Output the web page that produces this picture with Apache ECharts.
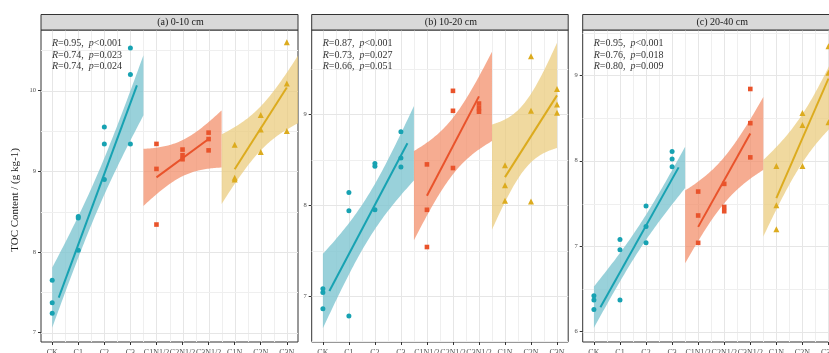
<!DOCTYPE html>
<html>
<head>
<meta charset="utf-8">
<script src="https://cdn.jsdelivr.net/npm/echarts@6/dist/echarts.min.js"></script>
<style>
  html, body { margin: 0; padding: 0; background: #ffffff; }
  #chart { width: 829px; height: 353px; }
</style>
</head>
<body>
<div id="chart"></div>
<script>
// Treatments along the x axis
const categories = ['CK', 'C1', 'C2', 'C3', 'C1N1/2', 'C2N1/2', 'C3N1/2', 'C1N', 'C2N', 'C3N'];
const panelTitles = ['(a) 0-10 cm', '(b) 10-20 cm', '(c) 20-40 cm'];

// TOC content (g/kg), three replicates per treatment
// 0-10 cm
const toc010_C      = [[7.65, 7.37, 7.24], [8.44, 8.42, 8.02], [9.55, 9.34, 8.90], [10.53, 10.20, 9.34]];
const toc010_CNhalf = [[9.34, 9.03, 8.34], [9.27, 9.20, 9.15], [9.48, 9.40, 9.26]];
const toc010_CN     = [[9.33, 8.92, 8.90], [9.70, 9.52, 9.24], [10.60, 10.09, 9.50]];
// 10-20 cm
const toc1020_C      = [[7.08, 7.04, 6.86], [8.14, 7.94, 6.78], [8.46, 8.43, 7.95], [8.81, 8.52, 8.42]];
const toc1020_CNhalf = [[8.45, 7.95, 7.54], [9.26, 9.04, 8.41], [9.12, 9.07, 9.03]];
const toc1020_CN     = [[8.44, 8.22, 8.05], [9.64, 9.04, 8.04], [9.28, 9.11, 9.02]];
// 20-40 cm
const toc2040_C      = [[6.42, 6.37, 6.26], [7.08, 6.96, 6.37], [7.47, 7.23, 7.04], [8.11, 8.02, 7.93]];
const toc2040_CNhalf = [[7.64, 7.36, 7.04], [7.73, 7.46, 7.41], [8.84, 8.44, 8.04]];
const toc2040_CN     = [[7.94, 7.48, 7.20], [8.56, 8.42, 7.94], [9.34, 9.03, 8.45]];

// Correlation statistics [R, p] for each treatment family
const stats010  = [['0.95', '<0.001'], ['0.74', '=0.023'], ['0.74', '=0.024']];
const stats1020 = [['0.87', '<0.001'], ['0.73', '=0.027'], ['0.66', '=0.051']];
const stats2040 = [['0.95', '<0.001'], ['0.76', '=0.018'], ['0.80', '=0.009']];

// Y tick labels per depth
const yTicks010  = [7, 8, 9, 10];
const yTicks1020 = [7, 8, 9];
const yTicks2040 = [6, 7, 8, 9];

const FONT = '"Liberation Serif", "Times New Roman", serif';
const X_MIN = 0.57, X_MAX = 10.43;
const PANEL_TOP = 30, PANEL_H = 312;

const panels = [
  { title: panelTitles[0], groups: [toc010_C, toc010_CNhalf, toc010_CN], stats: stats010,
    yTicks: yTicks010, yMin: 6.883, yMax: 10.753, left: 41, width: 257, lastBandEnd: 10.5 },
  { title: panelTitles[1], groups: [toc1020_C, toc1020_CNhalf, toc1020_CN], stats: stats1020,
    yTicks: yTicks1020, yMin: 6.494, yMax: 9.93, left: 311.7, width: 256.5, lastBandEnd: 10.0 },
  { title: panelTitles[2], groups: [toc2040_C, toc2040_CNhalf, toc2040_CN], stats: stats2040,
    yTicks: yTicks2040, yMin: 5.88, yMax: 9.53, left: 582.7, width: 257, lastBandEnd: 10.5 }
];

// Appearance of the three treatment families
const families = [
  { color: '#17a2b2', band: 'rgba(128,197,209,0.8)', symbol: 'circle',   size: 5,   firstCat: 1,
    bandSpan: [1, 4.5],  lineSpan: [1.25, 4.25] },
  { color: '#e9532b', band: 'rgba(243,140,102,0.72)', symbol: 'rect',     size: 4.6, firstCat: 5,
    bandSpan: [4.5, 7.5], lineSpan: [5, 7] },
  { color: '#dcab1e', band: 'rgba(234,203,122,0.72)', symbol: 'triangle', size: 6,   firstCat: 8,
    bandSpan: [7.5, 10.5], lineSpan: [8, 10] }
];

// Student t quantiles (0.975) by degrees of freedom
const T975 = { 7: 2.3646, 10: 2.2281 };

// Ordinary least squares fit with a 95% confidence band
function linearFit(xs, ys) {
  const n = xs.length;
  const mx = xs.reduce((a, b) => a + b, 0) / n;
  const my = ys.reduce((a, b) => a + b, 0) / n;
  let sxx = 0, sxy = 0;
  for (let i = 0; i < n; i++) { sxx += (xs[i] - mx) ** 2; sxy += (xs[i] - mx) * (ys[i] - my); }
  const b = sxy / sxx, a = my - b * mx;
  let sse = 0;
  for (let i = 0; i < n; i++) sse += (ys[i] - (a + b * xs[i])) ** 2;
  const s = Math.sqrt(sse / (n - 2));
  const t = T975[n - 2];
  return {
    predict: x => a + b * x,
    half: x => t * s * Math.sqrt(1 / n + (x - mx) ** 2 / sxx),
    xMin: Math.min(...xs), xMax: Math.max(...xs)
  };
}

const grids = [], xAxes = [], yAxes = [], series = [], graphics = [];

panels.forEach((pn, pi) => {
  grids.push({ left: pn.left, top: PANEL_TOP, width: pn.width, height: PANEL_H,
    outerBoundsMode: 'none', containLabel: false,
    show: true, borderColor: '#333333', borderWidth: 1, backgroundColor: 'transparent' });

  const xTickVals = categories.map((c, i) => i + 1);
  xAxes.push({
    type: 'value', gridIndex: pi, min: X_MIN, max: X_MAX,
    axisLine: { show: false }, splitLine: { show: false },
    axisTick: { show: true, length: 3, lineStyle: { color: '#333333', width: 1 }, customValues: xTickVals },
    axisLabel: { show: true, customValues: xTickVals, formatter: v => categories[Math.round(v) - 1],
      fontFamily: FONT, fontSize: 8, color: '#4d4d4d', margin: 6.5 }
  });
  yAxes.push({
    type: 'value', gridIndex: pi, min: pn.yMin, max: pn.yMax,
    axisLine: { show: false }, splitLine: { show: false },
    axisTick: { show: true, length: 3, lineStyle: { color: '#333333', width: 1 }, customValues: pn.yTicks },
    axisLabel: { show: true, customValues: pn.yTicks, formatter: v => String(Math.round(v)),
      fontFamily: FONT, fontSize: 6.5, color: '#4d4d4d', margin: 5 }
  });

  // Panel grid lines (major at ticks, minor half-way)
  const gl = [];
  for (let v = 1; v <= 10; v += 0.5) gl.push([v, 0, v % 1 === 0 ? 1 : 0]);
  for (let v = Math.ceil(pn.yMin * 2) / 2; v <= pn.yMax; v += 0.5) gl.push([v, 1, v % 1 === 0 ? 1 : 0]);
  series.push({
    type: 'custom', xAxisIndex: pi, yAxisIndex: pi, z: 1, silent: true,
    data: gl.map(g => [g[1] === 0 ? g[0] : 5, g[1] === 1 ? g[0] : (pn.yMin + pn.yMax) / 2, g[1], g[2]]),
    encode: { x: 0, y: 1 },
    renderItem: (params, api) => {
      const dir = api.value(2), major = api.value(3);
      let p1, p2;
      if (dir === 0) {
        const x = api.value(0);
        p1 = api.coord([x, pn.yMin]); p2 = api.coord([x, pn.yMax]);
        p1[0] = p2[0] = Math.round(p1[0]) + 0.5;
      } else {
        const y = api.value(1);
        p1 = api.coord([X_MIN, y]); p2 = api.coord([X_MAX, y]);
        p1[1] = p2[1] = Math.round(p1[1]) + 0.5;
      }
      return { type: 'line', shape: { x1: p1[0], y1: p1[1], x2: p2[0], y2: p2[1] },
        style: { stroke: major ? '#e6e6e6' : '#efefef', lineWidth: 1 } };
    }
  });

  pn.groups.forEach((reps, gi) => {
    const fam = families[gi];
    const xs = [], ys = [], pts = [];
    reps.forEach((vals, ci) => vals.forEach(v => {
      xs.push(fam.firstCat + ci); ys.push(v); pts.push([fam.firstCat + ci, v]);
    }));
    const fit = linearFit(xs, ys);
    const bandEnd = gi === 2 ? pn.lastBandEnd : fam.bandSpan[1];
    const b0 = fam.bandSpan[0], b1 = bandEnd;

    // Confidence band, stretched over its display span
    const steps = 60;
    const uMax = Math.min(1, (X_MAX - b0) / (b1 - b0));
    const bandPts = [];
    for (let k = 0; k <= steps; k++) {
      const u = uMax * k / steps;
      const dx = fit.xMin + u * (fit.xMax - fit.xMin);
      bandPts.push([b0 + u * (b1 - b0), fit.predict(dx) - fit.half(dx), fit.predict(dx) + fit.half(dx)]);
    }
    series.push({
      type: 'custom', xAxisIndex: pi, yAxisIndex: pi, z: 2, silent: true,
      data: [[(b0 + b1) / 2, fit.predict((fit.xMin + fit.xMax) / 2)]],
      encode: { x: 0, y: 1 },
      renderItem: (params, api) => {
        const upper = bandPts.map(p => api.coord([p[0], p[2]]));
        const lower = bandPts.map(p => api.coord([p[0], p[1]])).reverse();
        return { type: 'polygon', shape: { points: upper.concat(lower) }, style: { fill: fam.band } };
      }
    });

    // Fitted line
    series.push({
      type: 'line', xAxisIndex: pi, yAxisIndex: pi, z: 3, silent: true, showSymbol: false,
      data: [[fam.lineSpan[0], fit.predict(fit.xMin)], [fam.lineSpan[1], fit.predict(fit.xMax)]],
      lineStyle: { color: fam.color, width: 2 }
    });

    // Observations
    series.push({
      type: 'scatter', xAxisIndex: pi, yAxisIndex: pi, z: 4, silent: true,
      symbol: fam.symbol, symbolSize: fam.size, data: pts,
      itemStyle: { color: fam.color, opacity: 1 }
    });
  });

  // Facet strip
  graphics.push({ type: 'rect', z: 10,
    shape: { x: pn.left, y: 14.5, width: pn.width, height: PANEL_TOP - 14.5 },
    style: { fill: '#d9d9d9', stroke: '#333333', lineWidth: 1 } });
  graphics.push({ type: 'text', z: 11, x: pn.left + pn.width / 2 + 11, y: 22.5,
    style: { text: pn.title, font: '10px ' + FONT, fill: '#1a1a1a', align: 'center', verticalAlign: 'middle' } });

  // R / p annotations
  pn.stats.forEach((st, si) => {
    graphics.push({ type: 'text', z: 11, x: pn.left + 11, y: 43.3 + si * 11.7,
      style: {
        text: '{i|R}{n|=' + st[0] + ',  }{i|p}{n|' + st[1] + '}',
        verticalAlign: 'middle', align: 'left',
        rich: {
          i: { fontFamily: FONT, fontSize: 10, fontStyle: 'italic', fill: '#333333' },
          n: { fontFamily: FONT, fontSize: 10, fill: '#333333' }
        }
      } });
  });
});

// Y axis title
graphics.push({ type: 'text', z: 11, x: 15, y: 200, rotation: Math.PI / 2,
  style: { text: 'TOC Content / (g kg-1)', font: '11px ' + FONT, fill: '#1a1a1a',
    align: 'center', verticalAlign: 'middle' } });

const chart = echarts.init(document.getElementById('chart'), null, { renderer: 'canvas' });
chart.setOption({
  animation: false,
  backgroundColor: '#ffffff',
  grid: grids, xAxis: xAxes, yAxis: yAxes, series: series, graphic: graphics
});
</script>
</body>
</html>
